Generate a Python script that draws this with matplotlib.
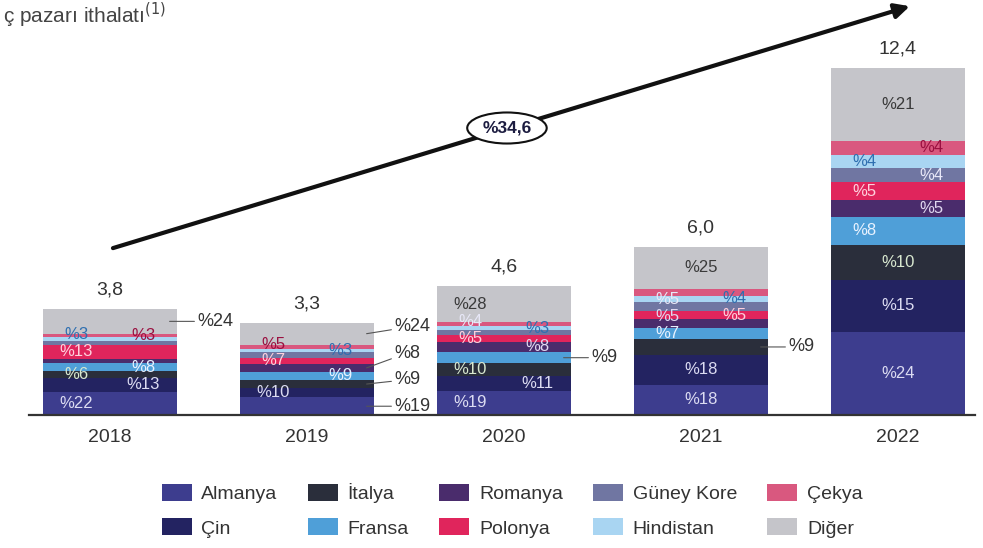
import numpy as np
import matplotlib.pyplot as plt

plt.rcParams['font.family'] = ['Liberation Sans', 'DejaVu Sans']

# pazar büyüklüğü ve ülke payları (%)
years = ['2018', '2019', '2020', '2021', '2022']
totals = [3.8, 3.3, 4.6, 6.0, 12.4]
countries = ['Almanya', 'Çin', 'İtalya', 'Fransa', 'Romanya',
             'Polonya', 'Güney Kore', 'Hindistan', 'Çekya', 'Diğer']
shares_2018 = [22, 13, 6, 8, 4, 13, 4, 3, 3, 24]
shares_2019 = [19, 10, 9, 9, 8, 7, 6, 3, 5, 24]
shares_2020 = [19, 11, 10, 9, 8, 5, 4, 3, 3, 28]
shares_2021 = [18, 18, 9, 7, 5, 5, 5, 4, 4, 25]
shares_2022 = [24, 15, 10, 8, 5, 5, 4, 4, 4, 21]
cagr_label = '%34,6'

# etiket yeri: L/R/C = bar içinde, O = dışarıda, None = yok
place_2018 = ['L', 'R', 'L', 'R', None, 'L', None, 'L', 'R', 'O']
place_2019 = ['O', 'L', 'O', 'R', 'O', 'L', None, 'R', 'L', 'O']
place_2020 = ['L', 'R', 'L', 'O', 'R', 'L', 'L', 'R', None, 'L']
place_2021 = ['C', 'C', 'O', 'L', 'L', 'R', 'L', 'R', None, 'C']
place_2022 = ['C', 'C', 'C', 'L', 'R', 'L', 'R', 'L', 'R', 'C']

colors = ['#3d3d8e', '#232361', '#2a2e3b', '#4f9fd8', '#4a2c6c',
          '#e0255c', '#7076a2', '#a9d5f2', '#d9587f', '#c5c5ca']
text_colors = ['#dcdcf2', '#dcdcf2', '#d8e8d0', '#e8f2ff', '#e0d8f0',
               '#ffd0dc', '#e8e8f8', '#2f6fb0', '#9a1040', '#3a3a3a']

shares = np.array([shares_2018, shares_2019, shares_2020, shares_2021, shares_2022])
places = [place_2018, place_2019, place_2020, place_2021, place_2022]

fig = plt.figure(figsize=(9.83, 5.48), dpi=100)
ax = fig.add_axes([0, 133 / 548, 1, 415 / 548])
ax.set_xlim(-110 / 197, 873 / 197)
ax.set_ylim(0, 415 / 28)
ax.axis('off')

x = np.arange(len(years))
w = 0.685
tot = np.array(totals)
bottom = np.zeros(len(years))
handles = []
for j, c in enumerate(countries):
    h = shares[:, j] / 100 * tot
    b = ax.bar(x, h, w, bottom=bottom, color=colors[j], edgecolor='none', label=c)
    handles.append(b)
    bottom = bottom + h

# segment etiketleri
for i in range(len(years)):
    seg = shares[i] / 100 * totals[i]
    cum = np.concatenate([[0], np.cumsum(seg)])
    last = {'L': -10, 'R': -10, 'C': -10, 'O': -10}
    for j, c in enumerate(countries):
        p = places[i][j]
        if p is None:
            continue
        yc = cum[j] + seg[j] / 2
        txt = '%' + str(shares[i][j])
        if p == 'O':
            ty = max(yc, last['O'] + 0.95)
            last['O'] = ty
            ax.annotate(txt, xy=(x[i] + w / 2 - 0.04, yc), xytext=(x[i] + w / 2 + 0.1, ty),
                        fontsize=13, color='#333333', va='center', ha='left',
                        arrowprops=dict(arrowstyle='-', color='#555555', lw=0.8,
                                        shrinkA=0, shrinkB=0))
        else:
            ty = max(yc, last[p] + 0.6)
            last[p] = ty
            dx = {'L': -0.17, 'R': 0.17, 'C': 0.0}[p]
            ax.text(x[i] + dx, ty, txt, fontsize=12, color=text_colors[j],
                    ha='center', va='center')
    ax.text(x[i], totals[i] + 0.68, f'{totals[i]:.1f}'.replace('.', ','),
            fontsize=14, color='#333333', ha='center', va='center')
    ax.text(x[i], -0.8, years[i], fontsize=14, color='#333333',
            ha='center', va='center')

ax.plot([-0.41, 4.39], [0, 0], color='#333333', lw=1.6, clip_on=False)

# büyüme oku
ax.annotate('', xy=(4.06, 14.6), xytext=(0.015, 5.96),
            arrowprops=dict(arrowstyle='-|>', color='#111111', lw=3,
                            mutation_scale=22, shrinkA=0, shrinkB=0))
ax.text(2.015, 10.25, cagr_label, fontsize=12.5, fontweight='bold', color='#1c1c40',
        ha='center', va='center',
        bbox=dict(boxstyle='ellipse,pad=0.2', fc='white', ec='#111111', lw=1.5))

fig.text(0.003, 1 - 15 / 548, 'ç pazarı ithalatı$^{(1)}$', fontsize=15,
         color='#444444', ha='left', va='center')

fig.legend(handles=handles, labels=countries, ncol=5, loc='center',
           bbox_to_anchor=(0.521, 0.069), frameon=False, fontsize=14,
           handlelength=1.55, handleheight=0.95, handletextpad=0.5,
           columnspacing=1.55, labelspacing=0.8, labelcolor='#333333')

fig.savefig('out.png', dpi=100, facecolor='white')
